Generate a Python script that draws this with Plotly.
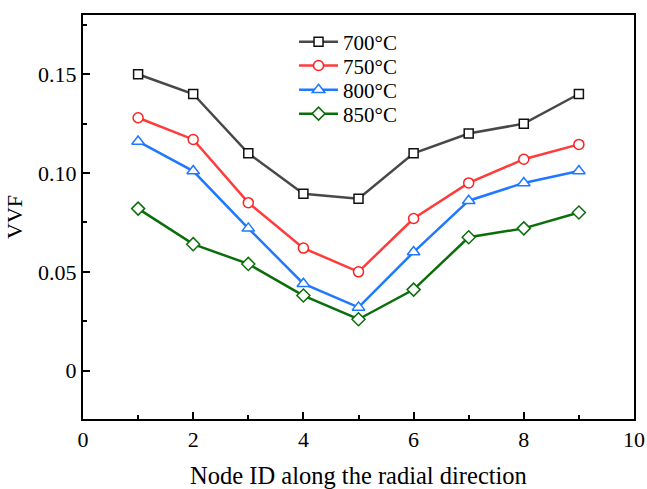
import plotly.graph_objects as go

node_id = [1, 2, 3, 4, 5, 6, 7, 8, 9]
series_names = ["700°C", "750°C", "800°C", "850°C"]
vvf_700 = [0.150, 0.140, 0.110, 0.0895, 0.087, 0.110, 0.120, 0.125, 0.140]
vvf_750 = [0.128, 0.117, 0.085, 0.062, 0.050, 0.077, 0.095, 0.107, 0.1145]
vvf_800 = [0.116, 0.101, 0.072, 0.044, 0.032, 0.060, 0.086, 0.095, 0.101]
vvf_850 = [0.082, 0.064, 0.054, 0.038, 0.026, 0.041, 0.0675, 0.072, 0.080]
y_tickvals = [0, 0.05, 0.10, 0.15]
y_ticktext = ["0", "0.05", "0.10", "0.15"]
x_tickvals = [0, 2, 4, 6, 8, 10]

line_colors = ["#484848", "#ff3b3b", "#1f78ff", "#0a6e0a"]
marker_lines = ["#111111", "#ff2020", "#1f78ff", "#0a6e0a"]
symbols = ["square", "circle", "triangle-up", "diamond"]
sizes = [9, 10, 11, 10]
legend_ids = ["legend", "legend2", "legend3", "legend4"]
legend_y = [0.933, 0.874, 0.814, 0.755]

FONT = "Liberation Serif, Times New Roman, serif"

fig = go.Figure()
for name, ys, lc, mc, sym, sz, lid in zip(series_names, [vvf_700, vvf_750, vvf_800, vvf_850],
                                          line_colors, marker_lines, symbols, sizes, legend_ids):
    fig.add_trace(go.Scatter(
        x=node_id, y=ys, name=name, mode="lines+markers",
        line=dict(color=lc, width=2.5),
        marker=dict(symbol=sym, size=sz, color="white", line=dict(color=mc, width=1.5)),
        legend=lid,
    ))

legend_style = dict(x=0.383, xanchor="left", yanchor="middle", itemwidth=39,
                    bgcolor="rgba(0,0,0,0)", font=dict(family=FONT, size=21))
layout_legends = {lid: dict(legend_style, y=ly) for lid, ly in zip(legend_ids, legend_y)}

fig.update_layout(
    width=647, height=489,
    margin=dict(l=83, r=13, t=15, b=70),
    paper_bgcolor="white", plot_bgcolor="white",
    font=dict(family=FONT, size=22, color="black"),
    showlegend=True,
    **layout_legends,
)
fig.update_xaxes(
    range=[0, 10], tickvals=x_tickvals, ticktext=[str(v) for v in x_tickvals],
    showgrid=False, zeroline=False, automargin=False,
    showline=True, linecolor="black", linewidth=2, mirror=True,
    ticks="inside", ticklen=7, tickwidth=1.5, tickcolor="black",
    minor=dict(tickvals=[1, 3, 5, 7, 9], ticks="inside", ticklen=4, tickwidth=1.5, tickcolor="black", showgrid=False),
    title=dict(text="Node ID along the radial direction", font=dict(size=24.5), standoff=15),
    tickfont=dict(size=22),
)
fig.update_yaxes(
    range=[-0.0245, 0.18], tickvals=y_tickvals, ticktext=y_ticktext,
    showgrid=False, zeroline=False, automargin=False,
    showline=True, linecolor="black", linewidth=2, mirror=True,
    ticks="inside", ticklen=7, tickwidth=1.5, tickcolor="black",
    minor=dict(tickvals=[-0.025, 0.025, 0.075, 0.125, 0.175], ticks="inside", ticklen=4, tickwidth=1.5, tickcolor="black", showgrid=False),
    title=dict(text="VVF", font=dict(size=22), standoff=9),
    tickfont=dict(size=22),
)

fig.write_html("out.html")
